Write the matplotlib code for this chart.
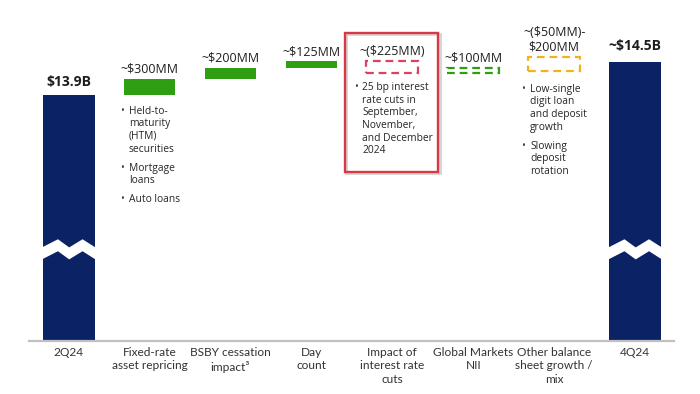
import matplotlib
matplotlib.use("Agg")
import matplotlib.pyplot as plt
from matplotlib.patches import Rectangle, Polygon
from matplotlib import font_manager

# ---------------- data ----------------
categories = ["2Q24", "Fixed-rate\nasset repricing", "BSBY cessation\nimpact³", "Day\ncount",
              "Impact of\ninterest rate\ncuts", "Global Markets\nNII", "Other balance\nsheet growth /\nmix", "4Q24"]
start_value = 13.9          # $B, 2Q24 NII
end_value = 14.5            # $B, 4Q24 NII
step_deltas = [0.3, 0.2, 0.125, -0.225, 0.1]   # $B
other_range = [-0.05, 0.2]  # $B, range for "Other balance sheet growth / mix"
value_labels = ["$13.9B", "~$300MM", "~$200MM", "~$125MM", "~($225MM)", "~$100MM",
                "~($50MM)-\n$200MM", "~$14.5B"]
bullets_fixed = [["Held-to-", "maturity", "(HTM)", "securities"], ["Mortgage", "loans"], ["Auto loans"]]
bullets_rates = [["25 bp interest", "rate cuts in", "September,", "November,", "and December", "2024"]]
bullets_other = [["Low-single", "digit loan", "and deposit", "growth"], ["Slowing", "deposit", "rotation"]]

# ---------------- style ----------------
names = {f.name for f in font_manager.fontManager.ttflist}
label_font = "Liberation Sans Narrow" if "Liberation Sans Narrow" in names else "Lato"
main_font = "Open Sans"
NAVY = "#0b2265"
GREEN = "#2f9e12"
RED = "#e0405f"
GOLD = "#f2b21b"
BOX_RED = "#d83a45"
TXT = "#1e1e1e"
PX = 72 / 100  # points per pixel

fig = plt.figure(figsize=(7, 3.94), dpi=100)
ax = fig.add_axes([29 / 700, 53 / 394, 645 / 700, 321 / 394])
y_floor = 9.38
ax.set_xlim(-0.49, 7.48)
ax.set_ylim(y_floor, 15.28)
bw = 0.64

# totals
ax.bar([0, 7], [start_value - y_floor, end_value - y_floor], bottom=y_floor, width=bw,
       color=NAVY, zorder=2)

# steps
level = start_value
step_styles = [("solid", GREEN), ("solid", GREEN), ("solid", GREEN), ("dashed", RED), ("dashed", GREEN)]
tops = [start_value]
bottoms = [y_floor]
for i, (d, (st, col)) in enumerate(zip(step_deltas, step_styles)):
    x = i + 1
    lo, hi = min(level, level + d), max(level, level + d)
    if st == "solid":
        ax.bar(x, hi - lo, bottom=lo, width=bw, color=col, zorder=2)
    else:
        ax.add_patch(Rectangle((x - bw / 2, lo), bw, hi - lo, fill=False, edgecolor=col,
                               lw=1.6, linestyle=(0, (3.5, 2.2)), zorder=2))
    tops.append(hi)
    bottoms.append(lo)
    level += d
lo, hi = level + other_range[0], level + other_range[1]
ax.add_patch(Rectangle((6 - bw / 2, lo), bw, hi - lo, fill=False, edgecolor=GOLD,
                       lw=1.6, linestyle=(0, (3.5, 2.2)), zorder=2))
tops.append(hi)
bottoms.append(lo)
tops.append(end_value)
bottoms.append(y_floor)

# axis break zigzag on total bars
for x in [0, 7]:
    l = x - bw / 2 - 0.01
    w = bw + 0.02
    a, t, yb = 0.15, 0.22, 11.1
    fx = [0, 0.3, 0.51, 0.76, 1.0]
    fy = [0, a, 0, a, 0]
    top = [(l + f * w, yb + dy) for f, dy in zip(fx, fy)]
    bot = [(l + f * w, yb - t + dy) for f, dy in zip(fx, fy)][::-1]
    ax.add_patch(Polygon(top + bot, closed=True, facecolor="white", edgecolor="none", zorder=3))

# value labels
label_off_px = [6, 3, 3, 3, 3, 3, 3, 9]
for i, (lab, off) in enumerate(zip(value_labels, label_off_px)):
    bold = i in (0, 7)
    ax.annotate(lab, xy=(i, tops[i]), xytext=(0, off * PX), textcoords="offset points",
                ha="center", va="bottom", fontsize=10 if bold else 9, color=TXT,
                fontweight="bold" if bold else "normal", family=main_font,
                linespacing=1.15, zorder=4)

# bullet lists
def bullet_list(x, ybot, items, first_px, text_dx_px, dot_dx_px):
    y = first_px
    for item in items:
        ax.annotate("•", xy=(x - bw / 2, ybot), xytext=(dot_dx_px * PX, -y * PX),
                    textcoords="offset points", ha="center", va="center", fontsize=7.5,
                    color="#444444", family=main_font)
        for line in item:
            ax.annotate(line, xy=(x - bw / 2, ybot), xytext=(text_dx_px * PX, -y * PX),
                        textcoords="offset points", ha="left", va="center", fontsize=7.4,
                        color="#262626", family=main_font)
            y += 12.7
        y += 6.3

bullet_list(1, bottoms[1], bullets_fixed, 16, 5, -2)
bullet_list(4, bottoms[4], bullets_rates, 14, -4, -10)
bullet_list(6, bottoms[6], bullets_other, 18.5, 2, -5)

# highlight box around interest rate cuts
ax.add_patch(Rectangle((3.43, 12.47), 1.16, 2.56, fill=False, edgecolor="#d4d4d4", lw=2.0,
                       clip_on=False, zorder=1))
ax.add_patch(Rectangle((3.41, 12.49), 1.16, 2.56, fill=False, edgecolor=BOX_RED, lw=1.7,
                       clip_on=False, zorder=5))

# axes styling
for s in ["top", "right", "left"]:
    ax.spines[s].set_visible(False)
ax.spines["bottom"].set_color("#c0c0c0")
ax.spines["bottom"].set_linewidth(1.6)
ax.spines["bottom"].set_zorder(4)
ax.set_yticks([])
ax.set_xticks(range(len(categories)))
ax.set_xticklabels(categories, fontsize=8.6, color="#333333", family=label_font)
for t in ax.get_xticklabels():
    t.set_linespacing(1.3)
ax.tick_params(axis="x", length=0, pad=4)

fig.savefig("out.png", dpi=100)
